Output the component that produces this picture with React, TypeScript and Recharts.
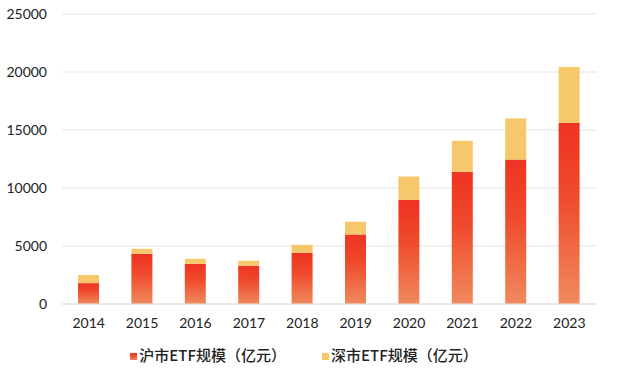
import { BarChart, Bar, XAxis, YAxis, CartesianGrid, Legend } from 'recharts';

const years = ['2014', '2015', '2016', '2017', '2018', '2019', '2020', '2021', '2022', '2023'];
// 沪市 / 深市 ETF size, 亿元
const shanghai = [1800, 4330, 3460, 3290, 4410, 6000, 8970, 11390, 12450, 15600];
const shenzhen = [700, 430, 430, 430, 690, 1090, 2020, 2680, 3550, 4840];
const yTicks = [0, 5000, 10000, 15000, 20000, 25000];

const chartData = years.map((year, i) => ({
  year,
  sh: shanghai[i],
  sz: shenzhen[i],
}));

const font = 'Lato, "Noto Sans CJK SC", sans-serif';

const App = () => {
  return (
    <div style={{ position: 'absolute', left: 0, top: 0, background: '#fff' }}>
      <BarChart
        width={618}
        height={371}
        data={chartData}
        barSize={21}
        margin={{ top: 14, right: 22, left: 0, bottom: 6 }}
      >
        <defs>
          <linearGradient id="redGrad" x1="0" y1="0" x2="0" y2="1">
            <stop offset="0%" stopColor="#EE3322" />
            <stop offset="40%" stopColor="#EF4A2C" />
            <stop offset="100%" stopColor="#F08A5E" />
          </linearGradient>
        </defs>
        <CartesianGrid vertical={false} stroke="#E3E3E3" />
        <XAxis
          dataKey="year"
          axisLine={{ stroke: '#E3E3E3' }}
          tickLine={false}
          tick={{ fill: '#222', fontSize: 14, fontFamily: font }}
          tickMargin={8}
          height={40}
        />
        <YAxis
          width={62}
          domain={[0, 25000]}
          ticks={yTicks}
          axisLine={false}
          tickLine={false}
          tick={{ fill: '#222', fontSize: 14, fontFamily: font }}
          tickMargin={9}
        />
        <Legend
          iconType="square"
          iconSize={7}
          verticalAlign="bottom"
          wrapperStyle={{ left: 11, fontFamily: '"Noto Sans CJK SC", sans-serif', fontSize: 15, fontWeight: 500 }}
          formatter={(value, _entry, index) => (
            <span style={{ color: '#222', marginLeft: -2, marginRight: index === 0 ? 26 : 0 }}>{value}</span>
          )}
        />
        <Bar dataKey="sh" name="沪市ETF规模（亿元）" stackId="a" fill="url(#redGrad)" isAnimationActive={false} />
        <Bar dataKey="sz" name="深市ETF规模（亿元）" stackId="a" fill="#F6C86B" isAnimationActive={false} />
      </BarChart>
    </div>
  );
};

export default App;
